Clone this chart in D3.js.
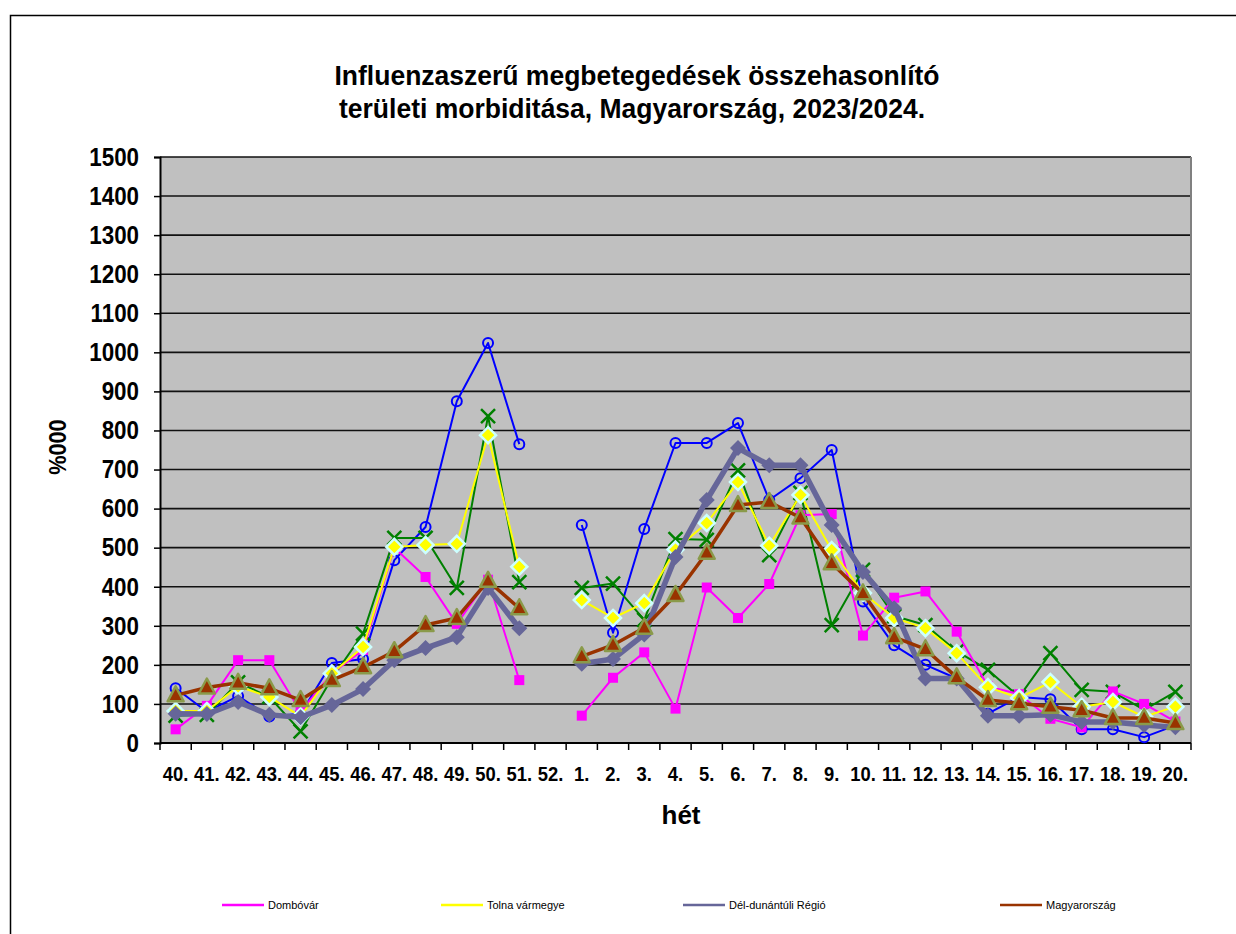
<!DOCTYPE html>
<html>
<head>
<meta charset="utf-8">
<script src="https://cdn.jsdelivr.net/npm/d3@7"></script>
<style>
  body { margin: 0; background: #fff; }
  svg { display: block; }
</style>
</head>
<body>
<script>
// weeks of the season (52. has no data)
var weeks = ["40.","41.","42.","43.","44.","45.","46.","47.","48.","49.","50.","51.","52.",
             "1.","2.","3.","4.","5.","6.","7.","8.","9.","10.","11.","12.","13.","14.","15.","16.","17.","18.","19.","20."];

// series values, %000 (null = no report)
var blueVals    = [140, 80, 120, 68, 75, 205, 215, 468, 553, 875, 1024, 765, null,
                   558, 282, 548, 768, 768, 819, 622, 678, 750, 362, 250, 200, 165, 75, 118, 112, 35, 35, 15, 45];
var greenVals   = [70, 72, 155, 118, 30, 165, 280, 525, 525, 397, 837, 412, null,
                   397, 408, 315, 522, 520, 698, 481, 640, 302, 443, 325, 302, 235, 187, 118, 230, 136, 131, 85, 131];
var dombovar    = [35, 95, 212, 212, 80, 178, 238, 500, 425, 305, 418, 161, null,
                   70, 167, 232, 88, 398, 320, 407, 583, 586, 275, 372, 388, 285, 145, 125, 62, 40, 132, 100, 55];
var tolna       = [82, 82, 145, 118, 68, 178, 246, 502, 507, 510, 788, 451, null,
                   366, 320, 358, 495, 563, 668, 505, 635, 494, 384, 320, 294, 230, 143, 115, 156, 93, 105, 67, 93];
var delDunantul = [75, 74, 105, 72, 66, 97, 138, 212, 243, 271, 397, 294, null,
                   203, 215, 278, 476, 622, 755, 711, 711, 558, 438, 345, 165, 165, 70, 70, 72, 54, 54, 46, 40];
var magyar      = [122, 142, 154, 140, 110, 161, 194, 235, 302, 320, 415, 345, null,
                   222, 251, 295, 379, 487, 609, 617, 577, 460, 383, 271, 240, 168, 110, 102, 93, 84, 64, 64, 51];

var yTicks = d3.range(0, 1501, 100);

// set the dimensions of the chart
var width = 1236, height = 934;
var plot = {left: 160, right: 1191, top: 157, bottom: 743};

var x = d3.scaleBand().domain(weeks).range([plot.left, plot.right]).padding(0);
var y = d3.scaleLinear().domain([0, 1500]).range([plot.bottom, plot.top]);

var svg = d3.select("body").append("svg")
    .attr("width", width)
    .attr("height", height)
    .style("font-family", "'Liberation Sans', Arial, sans-serif");

// squeeze text horizontally, the original uses a narrow font
function condense(sel, factor) {
  sel.each(function() {
    var w = this.getComputedTextLength();
    d3.select(this).attr("textLength", w * factor).attr("lengthAdjust", "spacingAndGlyphs");
  });
}

// outer frame
svg.append("path")
    .attr("d", "M10.5,940 L10.5,15.5 L1240,15.5")
    .attr("fill", "none")
    .attr("stroke", "#000")
    .attr("stroke-width", 1.5);

// title
var title = svg.append("text")
    .attr("text-anchor", "middle")
    .attr("font-weight", "bold")
    .attr("font-size", 27)
    .attr("fill", "#000");
title.append("tspan").attr("x", 637).attr("y", 85).text("Influenzaszerű megbetegedések összehasonlító")
    .attr("textLength", 605).attr("lengthAdjust", "spacingAndGlyphs");
title.append("tspan").attr("x", 632).attr("y", 118).text("területi morbiditása, Magyarország, 2023/2024.")
    .attr("textLength", 586).attr("lengthAdjust", "spacingAndGlyphs");

// plot background
svg.append("rect")
    .attr("x", plot.left)
    .attr("y", plot.top)
    .attr("width", plot.right - plot.left)
    .attr("height", plot.bottom - plot.top)
    .attr("fill", "#c0c0c0");

// horizontal grid lines
svg.append("g").selectAll("line")
    .data(yTicks.slice(1))
  .enter().append("line")
    .attr("x1", plot.left)
    .attr("x2", plot.right)
    .attr("y1", function(d) { return y(d); })
    .attr("y2", function(d) { return y(d); })
    .attr("stroke", "#111")
    .attr("stroke-width", 1.6);

// right border of plot
svg.append("line")
    .attr("x1", plot.right).attr("x2", plot.right)
    .attr("y1", plot.top).attr("y2", plot.bottom)
    .attr("stroke", "#808080")
    .attr("stroke-width", 2);

// Y axis
var yAxis = svg.append("g")
    .attr("transform", "translate(" + plot.left + ",0)")
    .call(d3.axisLeft(y).tickValues(yTicks).tickSize(6).tickPadding(15).tickFormat(d3.format("d")));
yAxis.select(".domain").attr("stroke-width", 2);
yAxis.selectAll("line").attr("stroke-width", 1.5);
yAxis.selectAll("text")
    .attr("font-size", 26)
    .attr("font-weight", "bold")
    .attr("font-family", "'Liberation Sans', Arial, sans-serif")
    .attr("fill", "#000")
    .call(condense, 0.86);

// X axis: labels centred on weeks, ticks on week boundaries
var xAxis = svg.append("g")
    .attr("transform", "translate(0," + plot.bottom + ")")
    .call(d3.axisBottom(x).tickSize(0).tickPadding(24));
xAxis.select(".domain").attr("d", "M" + plot.left + ",0H" + plot.right).attr("stroke-width", 2);
xAxis.selectAll("text")
    .attr("font-size", 20)
    .attr("font-weight", "bold")
    .attr("font-family", "'Liberation Sans', Arial, sans-serif")
    .attr("fill", "#000")
    .call(condense, 0.92);
xAxis.selectAll("line.bound")
    .data(weeks.concat(["end"]))
  .enter().append("line")
    .attr("class", "bound")
    .attr("x1", function(d, i) { return i < weeks.length ? x(d) : plot.right; })
    .attr("x2", function(d, i) { return i < weeks.length ? x(d) : plot.right; })
    .attr("y1", 0)
    .attr("y2", 7)
    .attr("stroke", "#000")
    .attr("stroke-width", 1.5);

// axis titles
svg.append("text")
    .attr("text-anchor", "middle")
    .attr("font-weight", "bold")
    .attr("font-size", 26)
    .attr("transform", "translate(681,824)")
    .text("hét");
svg.append("text")
    .attr("text-anchor", "middle")
    .attr("font-weight", "bold")
    .attr("font-size", 24)
    .attr("transform", "translate(66,447)rotate(-90)")
    .text("%000")
    .call(condense, 0.9);

var cx = function(i) { return x(weeks[i]) + x.bandwidth() / 2; };

var series = [
  {name: "blue",  values: blueVals,    color: "#0000ff", width: 2,   marker: "circle"},
  {name: "green", values: greenVals,   color: "#008000", width: 2,   marker: "cross"},
  {name: "Dombóvár", values: dombovar, color: "#ff00ff", width: 2,   marker: "square"},
  {name: "Tolna vármegye", values: tolna, color: "#ffff00", width: 2, marker: "diamond"},
  {name: "Dél-dunántúli Régió", values: delDunantul, color: "#666699", width: 5.5, marker: "diamondS"},
  {name: "Magyarország", values: magyar, color: "#993300", width: 3.5, marker: "triangle"}
];

var line = d3.line()
    .defined(function(d) { return d != null; })
    .x(function(d, i) { return cx(i); })
    .y(function(d) { return y(d); });

series.forEach(function(s) {
  var g = svg.append("g");
  g.append("path")
      .datum(s.values)
      .attr("fill", "none")
      .attr("stroke", s.color)
      .attr("stroke-width", s.width)
      .attr("stroke-linejoin", "round")
      .attr("d", line);

  var pts = s.values.map(function(v, i) { return {v: v, i: i}; })
      .filter(function(p) { return p.v != null; });
  var m = g.selectAll(".m").data(pts).enter().append("g")
      .attr("transform", function(p) { return "translate(" + cx(p.i) + "," + y(p.v) + ")"; });

  if (s.marker === "circle") {
    m.append("circle").attr("r", 5).attr("fill", "none").attr("stroke", s.color).attr("stroke-width", 2);
  } else if (s.marker === "cross") {
    m.append("path").attr("d", "M-7,-7L7,7M-7,7L7,-7").attr("stroke", s.color).attr("stroke-width", 2.5);
  } else if (s.marker === "square") {
    m.append("rect").attr("x", -5).attr("y", -5).attr("width", 10).attr("height", 10).attr("fill", s.color);
  } else if (s.marker === "diamond") {
    m.append("path").attr("d", "M0,-8L8,0L0,8L-8,0Z").attr("fill", s.color)
        .attr("stroke", "#ccffff").attr("stroke-width", 2.5);
  } else if (s.marker === "diamondS") {
    m.append("path").attr("d", "M0,-8L8,0L0,8L-8,0Z").attr("fill", s.color);
  } else if (s.marker === "triangle") {
    m.append("path").attr("d", "M0,-9L8,6L-8,6Z").attr("fill", s.color)
        .attr("stroke", "#8a9a4a").attr("stroke-width", 2.5).attr("stroke-linejoin", "round");
  }
});

// legend (only four series are named)
var legendItems = [
  {name: "Dombóvár", color: "#ff00ff", x: 222},
  {name: "Tolna vármegye", color: "#ffff00", x: 441},
  {name: "Dél-dunántúli Régió", color: "#666699", x: 683},
  {name: "Magyarország", color: "#993300", x: 1000}
];
var legend = svg.append("g");
legendItems.forEach(function(d) {
  legend.append("line")
      .attr("x1", d.x).attr("x2", d.x + 42)
      .attr("y1", 905).attr("y2", 905)
      .attr("stroke", d.color)
      .attr("stroke-width", 2.5);
  legend.append("text")
      .attr("x", d.x + 46)
      .attr("y", 909)
      .attr("font-size", 11)
      .attr("fill", "#000")
      .text(d.name);
});
</script>
</body>
</html>
